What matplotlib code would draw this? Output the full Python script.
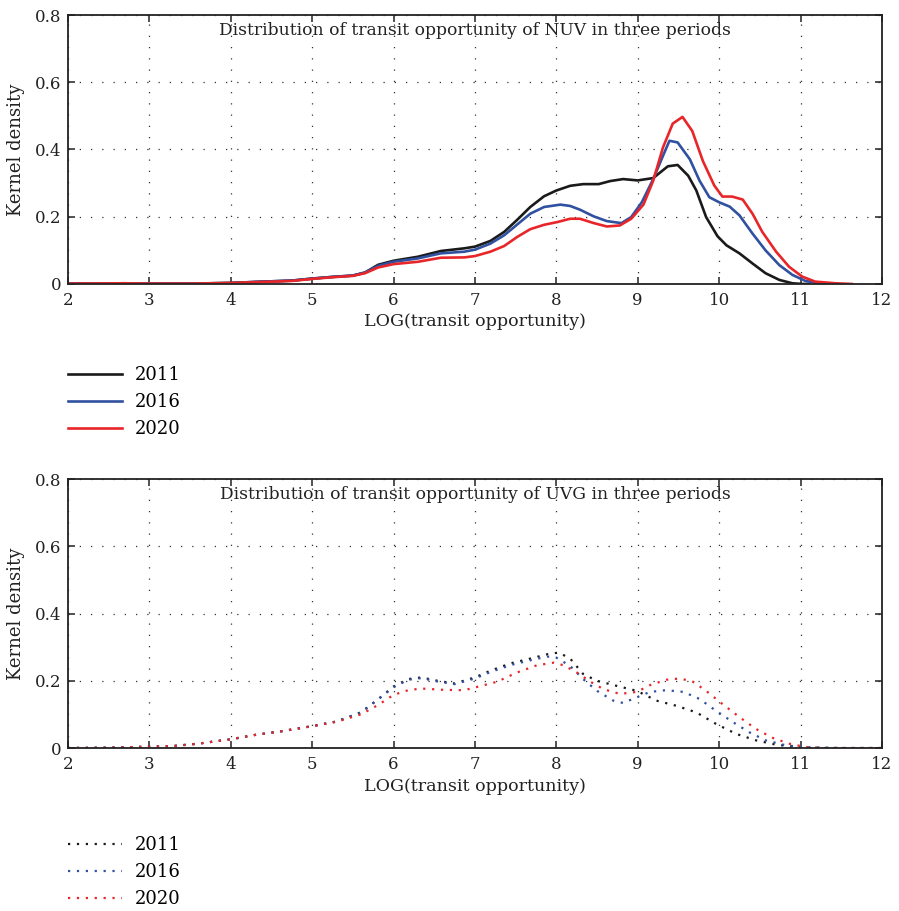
from matplotlib import pyplot as plt
from matplotlib.lines import Line2D

plt.rcParams['font.family'] = ['DejaVu Serif', 'Liberation Serif']

years = ["2011", "2016", "2020"]
colors = ["#1a1a1a", "#3050a0", "#e8262a"]

left_x = [2.0, 2.7, 3.0, 3.5, 4.0, 4.4, 4.75, 5.0, 5.25, 5.5, 5.65, 5.81]

# NUV (top panel)
nuv_2011_x = left_x + [6.0, 6.3, 6.58, 6.87, 7.0, 7.19, 7.36, 7.52, 7.68, 7.85, 8.0, 8.17, 8.33,
                       8.52, 8.66, 8.82, 9.0, 9.19, 9.37, 9.49, 9.62, 9.72, 9.84, 9.98, 10.09,
                       10.25, 10.41, 10.57, 10.74, 10.9, 11.02, 11.1]
nuv_2011_y = [0.001, 0.002, 0.001, 0.001, 0.003, 0.007, 0.010, 0.016, 0.021, 0.025, 0.034, 0.057,
              0.069, 0.081, 0.098, 0.106, 0.111, 0.128, 0.155, 0.191, 0.229, 0.261, 0.278, 0.292,
              0.297, 0.297, 0.306, 0.312, 0.308, 0.315, 0.350, 0.354, 0.322, 0.278, 0.199, 0.142,
              0.115, 0.091, 0.061, 0.032, 0.012, 0.002, 0.0, 0.0]

nuv_2016_x = left_x + [6.0, 6.3, 6.58, 6.87, 7.0, 7.19, 7.36, 7.52, 7.68, 7.85, 8.05, 8.17, 8.29,
                       8.46, 8.62, 8.8, 8.92, 9.05, 9.19, 9.31, 9.39, 9.49, 9.64, 9.76, 9.88,
                       10.0, 10.13, 10.25, 10.41, 10.57, 10.74, 10.9, 11.06, 11.23, 11.4]
nuv_2016_y = [0.001, 0.002, 0.001, 0.001, 0.003, 0.007, 0.010, 0.016, 0.021, 0.025, 0.034, 0.054,
              0.066, 0.076, 0.091, 0.096, 0.102, 0.120, 0.145, 0.177, 0.209, 0.229, 0.236, 0.232,
              0.221, 0.201, 0.187, 0.181, 0.199, 0.243, 0.312, 0.381, 0.426, 0.421, 0.371, 0.307,
              0.258, 0.243, 0.230, 0.204, 0.150, 0.100, 0.056, 0.027, 0.009, 0.002, 0.0]

nuv_2020_x = left_x + [6.0, 6.3, 6.58, 6.87, 7.0, 7.19, 7.36, 7.52, 7.68, 7.85, 8.01, 8.17, 8.29,
                       8.46, 8.62, 8.78, 8.92, 9.07, 9.19, 9.31, 9.43, 9.55, 9.67, 9.8, 9.94,
                       10.04, 10.16, 10.29, 10.41, 10.53, 10.7, 10.86, 11.02, 11.18, 11.43, 11.63]
nuv_2020_y = [0.001, 0.002, 0.001, 0.001, 0.003, 0.006, 0.009, 0.015, 0.020, 0.024, 0.032, 0.049,
              0.059, 0.066, 0.078, 0.079, 0.083, 0.096, 0.113, 0.140, 0.163, 0.176, 0.184, 0.194,
              0.194, 0.181, 0.171, 0.174, 0.194, 0.236, 0.307, 0.406, 0.477, 0.497, 0.455, 0.366,
              0.293, 0.260, 0.260, 0.251, 0.209, 0.155, 0.096, 0.051, 0.022, 0.007, 0.002, 0.0]

# UVG (bottom panel)
uvg_left_x = [2.0, 2.5, 3.0, 3.3, 3.6, 4.0, 4.3, 4.6, 5.0, 5.3, 5.6, 5.81]

uvg_2011_x = uvg_left_x + [6.0, 6.18, 6.34, 6.54, 6.75, 7.0, 7.19, 7.44, 7.68, 7.89, 8.03, 8.17,
                           8.33, 8.5, 8.74, 8.99, 9.23, 9.47, 9.72, 9.96, 10.21, 10.45, 10.7,
                           10.94, 11.1, 11.5, 12.0]
uvg_2011_y = [0.0, 0.001, 0.004, 0.006, 0.013, 0.026, 0.039, 0.049, 0.065, 0.079, 0.106, 0.145,
              0.183, 0.205, 0.210, 0.200, 0.192, 0.210, 0.230, 0.252, 0.266, 0.279, 0.284, 0.266,
              0.220, 0.200, 0.185, 0.170, 0.141, 0.126, 0.106, 0.072, 0.042, 0.023, 0.010, 0.003,
              0.001, 0.0, 0.0]

uvg_2016_x = uvg_left_x + [6.0, 6.18, 6.34, 6.54, 6.75, 7.0, 7.19, 7.44, 7.68, 7.89, 8.0, 8.17,
                           8.33, 8.5, 8.7, 8.82, 8.99, 9.15, 9.35, 9.56, 9.76, 9.96, 10.17,
                           10.37, 10.57, 10.82, 11.06, 11.5, 12.0]
uvg_2016_y = [0.0, 0.001, 0.004, 0.006, 0.013, 0.026, 0.039, 0.049, 0.065, 0.079, 0.106, 0.145,
              0.181, 0.203, 0.208, 0.198, 0.190, 0.207, 0.226, 0.247, 0.261, 0.272, 0.269, 0.244,
              0.205, 0.170, 0.141, 0.134, 0.151, 0.167, 0.172, 0.167, 0.146, 0.111, 0.077, 0.047,
              0.023, 0.008, 0.002, 0.0, 0.0]

uvg_2020_x = uvg_left_x + [6.0, 6.18, 6.34, 6.62, 6.87, 7.03, 7.27, 7.52, 7.76, 7.97, 8.09, 8.25,
                           8.42, 8.58, 8.78, 8.99, 9.15, 9.35, 9.52, 9.68, 9.84, 10.04, 10.25,
                           10.45, 10.66, 10.86, 11.06, 11.3, 12.0]
uvg_2020_y = [0.0, 0.001, 0.004, 0.006, 0.013, 0.026, 0.039, 0.049, 0.065, 0.078, 0.100, 0.128,
              0.158, 0.172, 0.177, 0.173, 0.172, 0.182, 0.197, 0.225, 0.246, 0.254, 0.246, 0.225,
              0.197, 0.175, 0.161, 0.167, 0.187, 0.203, 0.207, 0.197, 0.170, 0.131, 0.092, 0.057,
              0.030, 0.013, 0.003, 0.0, 0.0]

x_ticks = [2, 3, 4, 5, 6, 7, 8, 9, 10, 11, 12]
y_ticks = [0, 0.2, 0.4, 0.6, 0.8]
y_tick_labels = ["0", "0.2", "0.4", "0.6", "0.8"]

top_series = [(nuv_2011_x, nuv_2011_y), (nuv_2016_x, nuv_2016_y), (nuv_2020_x, nuv_2020_y)]
bottom_series = [(uvg_2011_x, uvg_2011_y), (uvg_2016_x, uvg_2016_y), (uvg_2020_x, uvg_2020_y)]

fig = plt.figure(figsize=(8.99, 9.11), dpi=100)
ax_top = fig.add_axes([0.0756, 0.6883, 0.9054, 0.2952])
ax_bot = fig.add_axes([0.0756, 0.1789, 0.9054, 0.2952])

dotted = (0, (1, 3))
txt = '#222222'


def style_axes(ax, title):
    ax.set_xlim(2, 12)
    ax.set_ylim(0, 0.8)
    ax.set_xticks(x_ticks)
    ax.set_yticks(y_ticks)
    ax.set_yticklabels(y_tick_labels)
    ax.tick_params(direction='in', top=True, right=True, length=5, width=1.1,
                   labelsize=12, colors=txt)
    ax.tick_params(axis='x', pad=6)
    ax.tick_params(axis='y', pad=5)
    ax.grid(True, color='#333333', linestyle=(0, (1, 8)), linewidth=0.9)
    for s in ax.spines.values():
        s.set_linewidth(1.3)
        s.set_color(txt)
    ax.text(0.5, 0.975, title, transform=ax.transAxes, ha='center', va='top',
            fontsize=12.3, color=txt)
    ax.set_xlabel("LOG(transit opportunity)", fontsize=12.6, color=txt, labelpad=3)
    ax.set_ylabel("Kernel density", fontsize=13, color=txt, labelpad=7)


for (xs, ys), c in zip(top_series, colors):
    ax_top.plot(xs, ys, color=c, linewidth=1.9)
for (xs, ys), c in zip(bottom_series, colors):
    ax_bot.plot(xs, ys, color=c, linewidth=1.6, linestyle=dotted)

style_axes(ax_top, "Distribution of transit opportunity of NUV in three periods")
style_axes(ax_bot, "Distribution of transit opportunity of UVG in three periods")

solid_handles = [Line2D([], [], color=c, linewidth=1.9) for c in colors]
dot_handles = [Line2D([], [], color=c, linewidth=1.6, linestyle=dotted) for c in colors]

fig.legend(solid_handles, years, loc='upper left', bbox_to_anchor=(0.0756, 0.598),
           frameon=False, fontsize=13, handlelength=3.0, handletextpad=0.7,
           labelspacing=0.5, borderpad=0, borderaxespad=0)
fig.legend(dot_handles, years, loc='upper left', bbox_to_anchor=(0.0756, 0.082),
           frameon=False, fontsize=13, handlelength=3.0, handletextpad=0.7,
           labelspacing=0.5, borderpad=0, borderaxespad=0)

fig.savefig("out.png", dpi=100)
